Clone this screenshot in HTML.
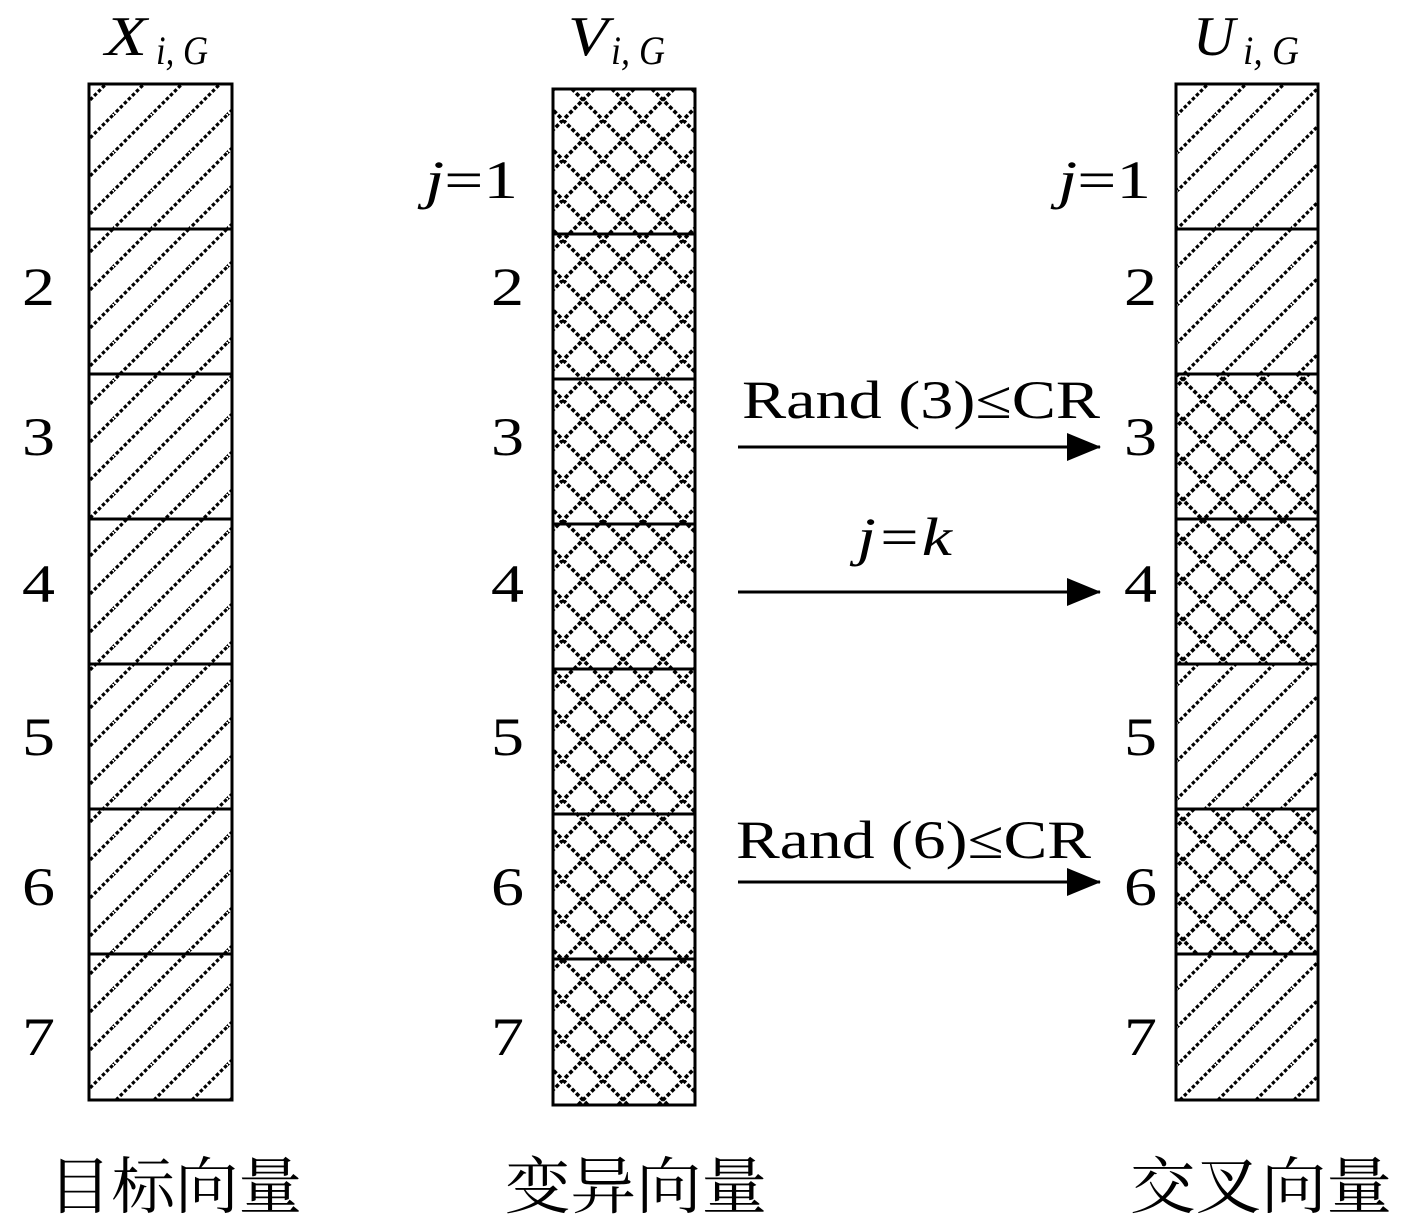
<!DOCTYPE html>
<html><head><meta charset="utf-8"><style>
body{margin:0;background:#fff}
svg text{font-family:"Liberation Serif","Noto Serif CJK SC",serif;fill:#000}
</style></head><body>
<svg width="1417" height="1224" viewBox="0 0 1417 1224" xmlns="http://www.w3.org/2000/svg">
<defs>
<pattern id="d" width="38" height="38" patternUnits="userSpaceOnUse">
<path d="M-2,40 L40,-2 M-21,21 L21,-21 M17,59 L59,17" stroke="#000" stroke-width="3.2" stroke-dasharray="3.5,2.2"/>
</pattern>
<pattern id="c" width="40" height="40" patternUnits="userSpaceOnUse" x="3" y="0">
<path d="M0,0 L40,40 M40,0 L0,40" stroke="#000" stroke-width="3.6" stroke-dasharray="4,2.2"/>
</pattern>
<marker id="a" markerWidth="34" markerHeight="28" refX="33" refY="14" orient="auto" markerUnits="userSpaceOnUse" viewBox="0 0 34 28"><path d="M0,0 L34,14 L0,28z"/></marker>
</defs>
<rect x="89" y="84" width="143" height="1016" fill="url(#d)" stroke="#000" stroke-width="3"/>
<g stroke="#000" stroke-width="3">
<line x1="89" x2="232" y1="229" y2="229"/><line x1="89" x2="232" y1="374" y2="374"/><line x1="89" x2="232" y1="519" y2="519"/><line x1="89" x2="232" y1="664" y2="664"/><line x1="89" x2="232" y1="809" y2="809"/><line x1="89" x2="232" y1="954" y2="954"/>
</g>
<rect x="553" y="89" width="142" height="1016" fill="url(#c)" stroke="#000" stroke-width="3"/>
<g stroke="#000" stroke-width="3">
<line x1="553" x2="695" y1="234" y2="234"/><line x1="553" x2="695" y1="379" y2="379"/><line x1="553" x2="695" y1="524" y2="524"/><line x1="553" x2="695" y1="669" y2="669"/><line x1="553" x2="695" y1="814" y2="814"/><line x1="553" x2="695" y1="959" y2="959"/>
</g>
<rect x="1176" y="84" width="142" height="290" fill="url(#d)"/>
<rect x="1176" y="374" width="142" height="290" fill="url(#c)"/>
<rect x="1176" y="664" width="142" height="145" fill="url(#d)"/>
<rect x="1176" y="809" width="142" height="145" fill="url(#c)"/>
<rect x="1176" y="954" width="142" height="146" fill="url(#d)"/>
<rect x="1176" y="84" width="142" height="1016" fill="none" stroke="#000" stroke-width="3"/>
<g stroke="#000" stroke-width="3">
<line x1="1176" x2="1318" y1="229" y2="229"/><line x1="1176" x2="1318" y1="374" y2="374"/><line x1="1176" x2="1318" y1="519" y2="519"/><line x1="1176" x2="1318" y1="664" y2="664"/><line x1="1176" x2="1318" y1="809" y2="809"/><line x1="1176" x2="1318" y1="954" y2="954"/>
</g>
<g font-size="56" font-style="italic">
<text x="105" y="55" textLength="42" lengthAdjust="spacingAndGlyphs">X</text><text x="156" y="64" font-size="40" textLength="52" lengthAdjust="spacingAndGlyphs">i, G</text>
<text x="568" y="55" textLength="40" lengthAdjust="spacingAndGlyphs">V</text><text x="611" y="64" font-size="40" textLength="54" lengthAdjust="spacingAndGlyphs">i, G</text>
<text x="1193" y="55" textLength="42" lengthAdjust="spacingAndGlyphs">U</text><text x="1243" y="64" font-size="40" textLength="56" lengthAdjust="spacingAndGlyphs">i, G</text>
</g>
<g font-size="54">
<text x="22" y="305" textLength="33" lengthAdjust="spacingAndGlyphs">2</text><text x="22" y="455" textLength="33" lengthAdjust="spacingAndGlyphs">3</text><text x="22" y="602" textLength="33" lengthAdjust="spacingAndGlyphs">4</text><text x="22" y="755" textLength="33" lengthAdjust="spacingAndGlyphs">5</text><text x="22" y="905" textLength="33" lengthAdjust="spacingAndGlyphs">6</text><text x="22" y="1055" textLength="33" lengthAdjust="spacingAndGlyphs">7</text>
<text x="491" y="305" textLength="33" lengthAdjust="spacingAndGlyphs">2</text><text x="491" y="455" textLength="33" lengthAdjust="spacingAndGlyphs">3</text><text x="491" y="602" textLength="33" lengthAdjust="spacingAndGlyphs">4</text><text x="491" y="755" textLength="33" lengthAdjust="spacingAndGlyphs">5</text><text x="491" y="905" textLength="33" lengthAdjust="spacingAndGlyphs">6</text><text x="491" y="1055" textLength="33" lengthAdjust="spacingAndGlyphs">7</text>
<text x="1124" y="305" textLength="33" lengthAdjust="spacingAndGlyphs">2</text><text x="1124" y="455" textLength="33" lengthAdjust="spacingAndGlyphs">3</text><text x="1124" y="602" textLength="33" lengthAdjust="spacingAndGlyphs">4</text><text x="1124" y="755" textLength="33" lengthAdjust="spacingAndGlyphs">5</text><text x="1124" y="905" textLength="33" lengthAdjust="spacingAndGlyphs">6</text><text x="1124" y="1055" textLength="33" lengthAdjust="spacingAndGlyphs">7</text>
<text x="425" y="198" textLength="93" lengthAdjust="spacingAndGlyphs"><tspan font-style="italic">j</tspan>=1</text>
<text x="1058" y="198" textLength="93" lengthAdjust="spacingAndGlyphs"><tspan font-style="italic">j</tspan>=1</text>
<text x="742" y="418" textLength="358" lengthAdjust="spacingAndGlyphs">Rand (3)≤CR</text>
<text x="857" y="555" font-style="italic" textLength="95" lengthAdjust="spacingAndGlyphs">j=k</text>
<text x="736" y="858" textLength="355" lengthAdjust="spacingAndGlyphs">Rand (6)≤CR</text>
</g>
<g stroke="#000" stroke-width="3">
<line x1="738" y1="447" x2="1100" y2="447" marker-end="url(#a)"/>
<line x1="738" y1="592" x2="1100" y2="592" marker-end="url(#a)"/>
<line x1="738" y1="882" x2="1100" y2="882" marker-end="url(#a)"/>
</g>
<g font-size="62" font-family="'Noto Serif CJK SC','Noto Sans CJK SC',serif">
<text x="48" y="1208" textLength="254" lengthAdjust="spacingAndGlyphs">目标向量</text>
<text x="505" y="1208" textLength="262" lengthAdjust="spacingAndGlyphs">变异向量</text>
<text x="1130" y="1208" textLength="262" lengthAdjust="spacingAndGlyphs">交叉向量</text>
</g>
</svg>
</body></html>
